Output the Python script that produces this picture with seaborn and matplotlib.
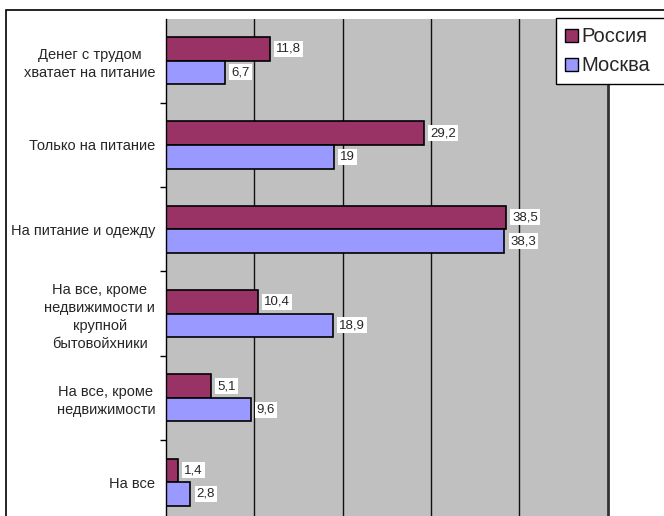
import matplotlib
matplotlib.use('Agg')
import matplotlib.pyplot as plt
import seaborn as sns
import pandas as pd
from matplotlib.patches import Rectangle, Patch

categories = [
    "Денег с трудом\nхватает на питание",
    "Только на питание",
    "На питание и одежду",
    "На все, кроме\nнедвижимости и\nкрупной\nбытовойхники",
    "На все, кроме\nнедвижимости",
    "На все",
]
russia = [11.8, 29.2, 38.5, 10.4, 5.1, 1.4]
moscow = [6.7, 19, 38.3, 18.9, 9.6, 2.8]
series = ["Россия", "Москва"]
colors = ["#993366", "#9999FF"]

df = pd.DataFrame({
    "cat": categories * 2,
    "val": russia + moscow,
    "series": [series[0]] * len(categories) + [series[1]] * len(categories),
})

sns.set_style("white")
plt.rcParams["font.family"] = ["Liberation Sans", "DejaVu Sans"]

W, H = 664, 516
fig = plt.figure(figsize=(W / 100, H / 100), dpi=100)
left, right, top = 165.7, 607.7, 18.5
cat_h = 84.3
ax = fig.add_axes([left / W, (H - top - 6 * cat_h) / H, (right - left) / W, 6 * cat_h / H])

sns.barplot(data=df, y="cat", x="val", hue="series", palette=colors, orient="h",
            width=0.56, edgecolor="black", linewidth=1.2, saturation=1,
            legend=False, ax=ax)

ax.set_facecolor("#C0C0C0")
ax.set_xlim(0, 50)
ax.set_ylim(5.5, -0.5)
ax.set_xticks([10, 20, 30, 40])
ax.xaxis.grid(True, color="#111111", lw=1)
ax.yaxis.grid(False)
ax.set_axisbelow(True)
ax.tick_params(axis="x", length=0, labelbottom=False, bottom=False)
ax.set_xlabel("")
ax.set_ylabel("")

for s in ["top", "bottom"]:
    ax.spines[s].set_visible(False)
ax.spines["left"].set_color("black")
ax.spines["left"].set_linewidth(1)
ax.spines["right"].set_color("#333333")
ax.spines["right"].set_linewidth(2)

ax.set_yticks(range(len(categories)))
ax.set_yticklabels(categories, multialignment="center", fontsize=10.5,
                   linespacing=1.36)
ax.tick_params(axis="y", which="major", length=0, pad=7.5)
ax.set_yticks([i + 0.5 for i in range(len(categories) - 1)], minor=True)
ax.tick_params(axis="y", which="minor", left=True, length=4, width=1,
               direction="out", color="black")


def fmt(v):
    return f"{v:g}".replace(".", ",")


for cont, vals in zip(ax.containers, [russia, moscow]):
    ax.bar_label(cont, labels=[fmt(v) for v in vals], padding=4.5, fontsize=9.5,
                 bbox=dict(boxstyle="square,pad=0.15", fc="white", ec="none"))

handles = [Patch(facecolor=c, edgecolor="black", lw=1) for c in colors]
leg = fig.legend(handles, series, loc="upper left", mode="expand",
                 bbox_to_anchor=(556 / W, 1 - 18.3 / H, 0.2, 0), frameon=True,
                 fancybox=False, edgecolor="black", framealpha=1, fontsize=14.5,
                 handlelength=0.62, handleheight=0.62, handletextpad=0.2,
                 labelspacing=0.5, borderpad=0.45, borderaxespad=0)
leg.get_frame().set_linewidth(1)

fig.add_artist(Rectangle((6 / W, -0.1), 1.2, (1 - 10 / H) + 0.1,
                         transform=fig.transFigure, fill=False, ec="black", lw=1.2))

fig.savefig("out.png", dpi=100)
